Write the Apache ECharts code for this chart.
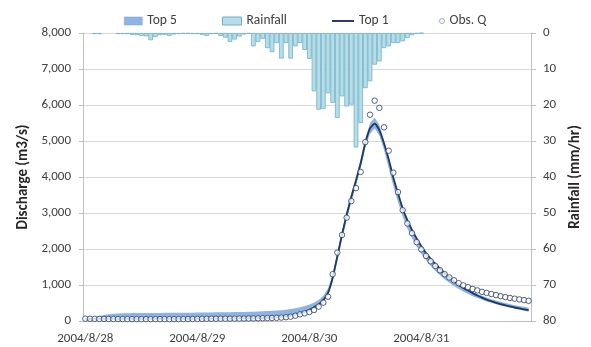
<!DOCTYPE html>
<html>
<head>
<meta charset="utf-8">
<script src="https://cdn.jsdelivr.net/npm/echarts@6/dist/echarts.min.js"></script>
<style>
  html, body { margin: 0; padding: 0; background: #fff; }
  #chart { width: 591px; height: 347px; }
</style>
</head>
<body>
<div id="chart"></div>
<script>
// Hourly simulation window: 2004/8/28 00:00 to 2004/8/31 23:00
const days = ['2004/8/28', '2004/8/29', '2004/8/30', '2004/8/31'];

// Hourly rainfall (mm/hr)
const rainfall = [
  0, 0, 0.3, 0.3, 0, 0, 0, 0.3, 0.3, 0.3,
  0.5, 0.6, 0.8, 0.9, 2.0, 1.1, 0.6, 0.5, 0.8, 0.4,
  0.3, 0.2, 0.2, 0.3, 0.3, 0.5, 0.8, 0.3, 0.2, 0.8,
  1.3, 2.5, 1.8, 1.0, 0.4, 0.2, 3.7, 2.5, 1.6, 4.2,
  5.3, 2.8, 7.1, 2.8, 7.1, 3.7, 2.8, 4.7, 7.2, 16.2,
  21.3, 21.1, 16.7, 19.4, 23.6, 17.6, 20.4, 19.9, 31.8, 25.0,
  15.3, 13.4, 8.8, 7.9, 4.2, 3.7, 2.8, 2.8, 2.3, 1.4,
  0.6, 0.2, 0.1, 0, 0, 0, 0, 0, 0, 0,
  0, 0, 0, 0, 0, 0, 0, 0, 0, 0,
  0, 0, 0, 0, 0, 0
];

// Observed discharge (m3/s)
const obsQ = [
  65, 62, 60, 58, 57, 56, 55, 55, 54, 54,
  53, 53, 52, 52, 52, 52, 52, 52, 52, 53,
  53, 54, 55, 56, 58, 60, 61, 62, 63, 64,
  64, 65, 66, 67, 68, 70, 72, 74, 77, 80,
  84, 88, 95, 105, 120, 147, 186, 214, 250, 305,
  400, 510, 675, 1300, 1900, 2390, 2870, 3330, 3690, 4140,
  4970, 5730, 6120, 5920, 5380, 4730, 4120, 3580, 3080, 2710,
  2440, 2190, 1990, 1810, 1660, 1530, 1410, 1300, 1210, 1130,
  1050, 990, 940, 890, 850, 810, 780, 750, 720, 690,
  665, 640, 620, 600, 580, 560
];

// Best parameter set simulation (m3/s)
const top1 = [
  55, 56, 57, 58, 58, 58, 58, 58, 58, 58,
  58, 58, 58, 58, 59, 60, 60, 60, 60, 61,
  61, 61, 62, 62, 63, 63, 64, 64, 65, 66,
  67, 68, 70, 72, 74, 76, 78, 80, 83, 86,
  90, 100, 112, 128, 150, 178, 212, 255, 310, 380,
  460, 580, 780, 1200, 1800, 2400, 2950, 3450, 3900, 4380,
  4950, 5350, 5480, 5300, 4940, 4500, 3980, 3550, 3130, 2800,
  2530, 2290, 2080, 1890, 1730, 1590, 1460, 1330, 1210, 1100,
  1000, 920, 845, 775, 710, 650, 595, 550, 505, 470,
  435, 405, 375, 350, 325, 305
];

// Envelope of the five best simulations (m3/s)
const top5Low = [
  50, 50, 50, 50, 50, 50, 50, 50, 50, 50,
  50, 50, 50, 50, 50, 50, 50, 50, 50, 50,
  50, 50, 50, 50, 50, 50, 50, 50, 50, 52,
  55, 58, 60, 62, 65, 68, 70, 72, 75, 78,
  82, 90, 100, 112, 130, 155, 185, 225, 275, 340,
  420, 540, 720, 1100, 1650, 2250, 2800, 3300, 3750, 4250,
  4800, 5200, 5350, 5150, 4750, 4250, 3750, 3300, 2900, 2570,
  2300, 2070, 1870, 1690, 1530, 1390, 1270, 1160, 1060, 970,
  890, 820, 750, 690, 640, 590, 545, 505, 465, 430,
  400, 370, 340, 310, 285, 260
];
const top5High = [
  60, 80, 110, 140, 165, 185, 200, 210, 215, 218,
  220, 220, 222, 222, 224, 224, 225, 226, 227, 228,
  229, 230, 231, 232, 233, 234, 236, 238, 240, 242,
  244, 246, 248, 250, 253, 256, 260, 265, 270, 276,
  283, 292, 302, 315, 332, 355, 385, 420, 460, 510,
  580, 700, 900, 1300, 1900, 2500, 3050, 3550, 4000, 4500,
  5050, 5500, 5650, 5450, 5000, 4500, 4000, 3550, 3150, 2820,
  2550, 2300, 2090, 1900, 1740, 1590, 1460, 1340, 1220, 1120,
  1030, 950, 880, 810, 750, 700, 650, 605, 570, 535,
  500, 470, 440, 420, 395, 370
];

// Axis ranges
const qMax = 8000, qStep = 1000;
const rainMax = 80, rainStep = 10;

// Hourly category labels
const hours = [];
days.forEach(d => { for (let h = 0; h < 24; h++) hours.push(d + ' ' + h + ':00'); });
const top5Width = top5High.map((v, i) => v - top5Low[i]);
// dry hours get no bar at all
const rainBars = rainfall.map(v => (v > 0 ? v : '-'));

const FONT = 'Carlito, Lato, sans-serif';
const TEXT = '#404040';
const AXIS = '#bfbfbf';

const chart = echarts.init(document.getElementById('chart'), null, { renderer: 'canvas' });

function legendItem(name, left, opts) {
  return Object.assign({
    top: 9,
    left: left,
    itemGap: 0,
    itemTextGap: 4,
    textStyle: { fontFamily: FONT, fontSize: 13.5, color: TEXT },
    data: [name]
  }, opts);
}

chart.setOption({
  animation: false,
  backgroundColor: '#fff',
  textStyle: { fontFamily: FONT },
  legend: [
    legendItem('Top 5', 119, { itemWidth: 18, itemHeight: 8, icon: 'rect',
      itemStyle: { color: '#8db4e2', borderColor: '#7aa3d6', borderWidth: 0.5 } }),
    legendItem('Rainfall', 217, { itemWidth: 19, itemHeight: 8, icon: 'rect',
      itemStyle: { color: '#b7dee8', borderColor: '#6fb1c6', borderWidth: 1 } }),
    legendItem('Top 1', 327, { itemWidth: 22, itemHeight: 2, icon: 'rect',
      itemStyle: { color: '#2c3e66' } }),
    legendItem('Obs. Q', 434, { itemWidth: 5, itemHeight: 5, itemTextGap: 10, icon: 'circle',
      itemStyle: { color: '#fff', borderColor: '#8496b0', borderWidth: 1 } })
  ],
  grid: { left: 83, right: 59, top: 33, bottom: 26 },
  xAxis: {
    type: 'category',
    data: hours,
    boundaryGap: true,
    axisLine: { lineStyle: { color: AXIS } },
    axisTick: { interval: 11, length: 5, lineStyle: { color: AXIS } },
    axisLabel: {
      interval: 23,
      margin: 11,
      color: TEXT,
      fontSize: 13,
      fontFamily: FONT,
      formatter: v => v.split(' ')[0]
    },
    splitLine: { show: false }
  },
  yAxis: [
    {
      type: 'value',
      min: 0, max: qMax, interval: qStep,
      name: 'Discharge (m3/s)',
      nameLocation: 'middle',
      nameGap: 52,
      nameTextStyle: { fontFamily: FONT, fontSize: 15, fontWeight: 'bold', color: '#262626' },
      axisLine: { show: true, lineStyle: { color: AXIS } },
      axisTick: { show: true, length: 4, lineStyle: { color: AXIS } },
      axisLabel: {
        margin: 12, color: TEXT, fontSize: 13, fontFamily: FONT,
        formatter: v => v.toLocaleString('en-US')
      },
      splitLine: { lineStyle: { color: '#d9d9d9' } }
    },
    {
      type: 'value',
      position: 'right',
      inverse: true,
      min: 0, max: rainMax, interval: rainStep,
      name: 'Rainfall (mm/hr)',
      nameLocation: 'middle',
      nameGap: 37,
      nameRotate: 90,
      nameTextStyle: { fontFamily: FONT, fontSize: 15, fontWeight: 'bold', color: '#262626' },
      axisLine: { show: true, lineStyle: { color: AXIS } },
      axisTick: { show: true, length: 5, lineStyle: { color: AXIS } },
      axisLabel: { margin: 12, color: TEXT, fontSize: 13, fontFamily: FONT },
      splitLine: { show: false }
    }
  ],
  series: [
    {
      name: 'Rainfall',
      type: 'bar',
      yAxisIndex: 1,
      data: rainBars,
      barCategoryGap: '0%',
      itemStyle: { color: '#b7dee8', borderColor: '#6fb1c6', borderWidth: 0.8 },
      z: 2
    },
    {
      name: 'top5-base',
      type: 'line',
      stack: 'top5',
      data: top5Low,
      symbol: 'none',
      lineStyle: { width: 0, opacity: 0 },
      silent: true,
      z: 3
    },
    {
      name: 'Top 5',
      type: 'line',
      stack: 'top5',
      data: top5Width,
      symbol: 'none',
      color: '#8db4e2',
      lineStyle: { width: 0, opacity: 0 },
      areaStyle: { color: '#8db4e2', opacity: 1 },
      z: 3
    },
    {
      name: 'Top 1',
      type: 'line',
      data: top1,
      symbol: 'none',
      smooth: 0.2,
      color: '#1f3864',
      lineStyle: { color: '#1f3864', width: 1.8 },
      z: 4
    },
    {
      name: 'Obs. Q',
      type: 'scatter',
      data: obsQ,
      symbol: 'circle',
      symbolSize: 5.5,
      itemStyle: { color: '#fff', borderColor: '#2b3f66', borderWidth: 1 },
      z: 5
    }
  ]
});
</script>
</body>
</html>
